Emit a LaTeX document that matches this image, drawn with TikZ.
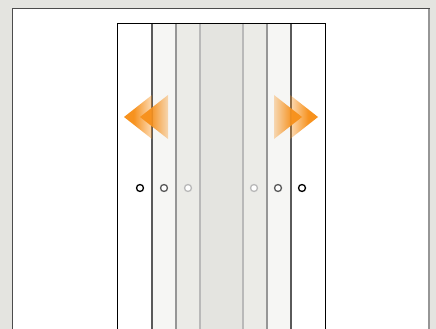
\documentclass[tikz,border=0pt]{standalone}
\usetikzlibrary{fadings}
\definecolor{bgc}{RGB}{228,228,224}
\definecolor{colA}{RGB}{246,246,244}
\definecolor{colB}{RGB}{235,235,231}
\definecolor{colC}{RGB}{228,228,224}
\definecolor{lnA}{RGB}{90,90,90}
\definecolor{lnB}{RGB}{150,150,150}
\definecolor{lnC}{RGB}{185,185,185}
\definecolor{orng}{RGB}{247,146,30}
\pgfdeclarehorizontalshading{fshR}{100bp}{color(0bp)=(white); color(42bp)=(white); color(66bp)=(black!50); color(90bp)=(black); color(100bp)=(black)}
\pgfdeclarehorizontalshading{fshL}{100bp}{color(0bp)=(black); color(10bp)=(black); color(34bp)=(black!50); color(58bp)=(white); color(100bp)=(white)}
\pgfdeclarefading{fadeR}{\pgfuseshading{fshR}}
\pgfdeclarefading{fadeL}{\pgfuseshading{fshL}}
\tikzset{
  hole/.style={draw=#1, line width=1.3pt, fill=white},
  divline/.style={draw=#1, line width=1.3pt},
  arrowtri/.style={fill=orng, path fading=#1, fit fading=true},
}
\begin{document}
\begin{tikzpicture}[x=1pt,y=-1pt]
\useasboundingbox (0,0) rectangle (436,329);
\fill[bgc] (0,0) rectangle (436,329);
% outer sheet
\fill[white] (12.5,8.5) rectangle (429,330);
\draw[lnB, line width=2pt] (428.5,8.5) -- (428.5,330);
\draw[black!70, line width=1.2pt] (12.5,330) -- (12.5,8.5) -- (429.5,8.5);
% columns
\fill[colA] (152,23) rectangle (176,330);
\fill[colB] (176,23) rectangle (200,330);
\fill[colC] (200,23) rectangle (243,330);
\fill[colB] (243,23) rectangle (267,330);
\fill[colA] (267,23) rectangle (291,330);
\draw[divline=lnA] (152,23) -- (152,330);
\draw[divline=lnB] (176,23) -- (176,330);
\draw[divline=lnC] (200,23) -- (200,330);
\draw[divline=lnC] (243,23) -- (243,330);
\draw[divline=lnB] (267,23) -- (267,330);
\draw[divline=lnA] (291,23) -- (291,330);
\draw[black, line width=1.2pt] (117.5,330) -- (117.5,23.5) -- (325.5,23.5) -- (325.5,330);
% arrows left
\path[arrowtri=fadeR] (124,117) -- (152,95) -- (152,139) -- cycle;
\path[arrowtri=fadeR] (140,117) -- (168,95) -- (168,139) -- cycle;
% arrows right
\path[arrowtri=fadeL] (318,117) -- (290,95) -- (290,139) -- cycle;
\path[arrowtri=fadeL] (302,117) -- (274,95) -- (274,139) -- cycle;
% holes
\draw[hole=black] (140,188) circle (3.5);
\draw[hole=lnA] (164,188) circle (3.5);
\draw[hole=lnC] (188,188) circle (3.5);
\draw[hole=lnC] (254,188) circle (3.5);
\draw[hole=lnA] (278,188) circle (3.5);
\draw[hole=black] (302,188) circle (3.5);
\end{tikzpicture}
\end{document}
